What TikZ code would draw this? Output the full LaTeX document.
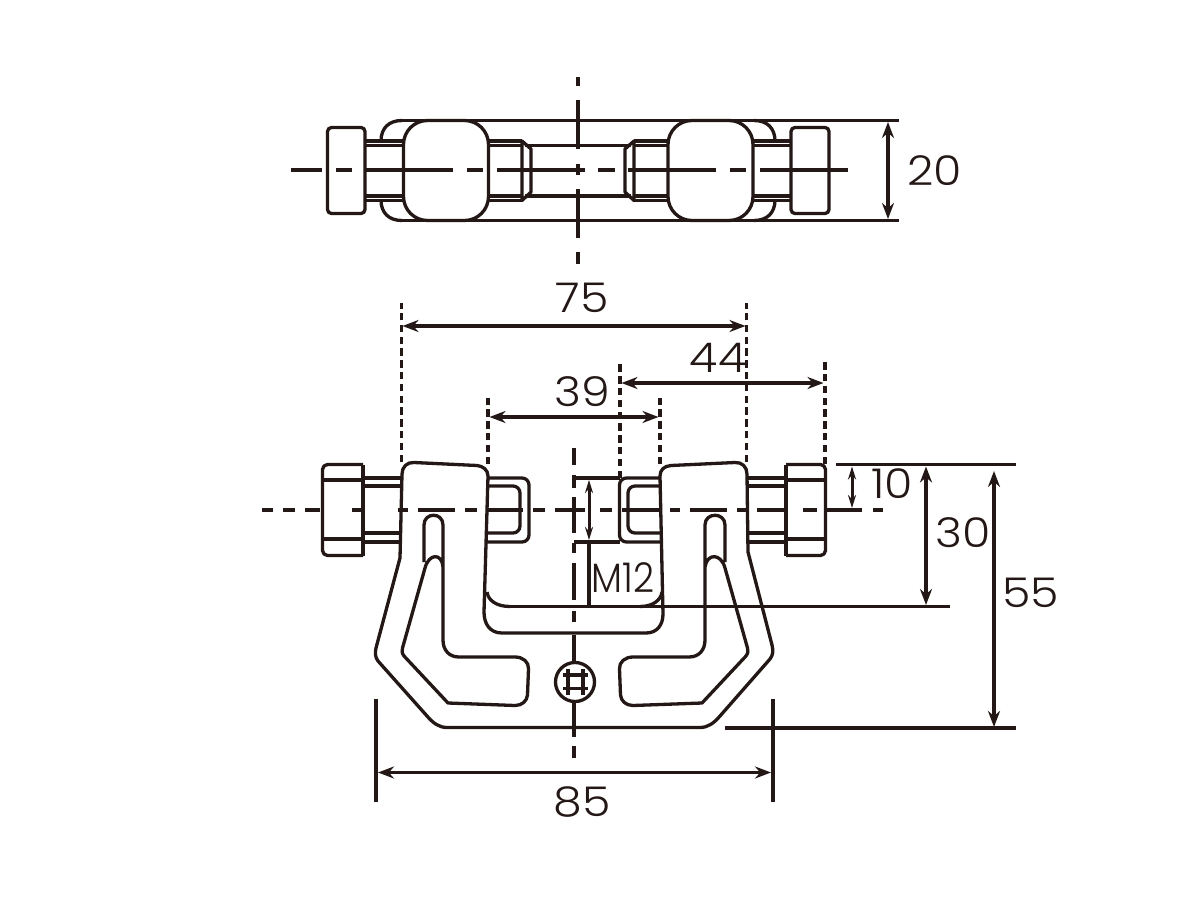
\documentclass[tikz,border=0pt]{standalone}
\usepackage{fontspec}
\setmainfont{Poppins}[UprightFont=* Light]
\usetikzlibrary{arrows.meta}
\definecolor{inkblack}{HTML}{231815}
\tikzset{
  part/.style={color=inkblack,line width=3.3pt,line join=round},
  thinline/.style={color=inkblack,line width=3.1pt},
  axis/.style={color=inkblack,line width=3.3pt},
  witness/.style={color=inkblack,line width=3.6pt,dash pattern=on 7.5pt off 4.3pt},
  dimline/.style={color=inkblack,line width=3.2pt,{Stealth[length=16pt,width=12pt]}-{Stealth[length=16pt,width=12pt]}},
  smalldim/.style={color=inkblack,line width=3pt,{Stealth[length=13pt,width=8pt]}-{Stealth[length=13pt,width=8pt]}},
  dimtext/.style={color=inkblack,font=\fontsize{41}{41}\selectfont,inner sep=0pt,xscale=1.12,transform shape},
}
\begin{document}
\begin{tikzpicture}[x=1pt,y=-1pt]
\useasboundingbox (0,0) rectangle (1200,900);
\fill[white] (0,0) rectangle (1200,900);
% Top view: clamp body behind the blocks
\draw[part] (381,141) .. controls (381,128) and (389,120.5) .. (402,120.5);
\draw[part] (381,200) .. controls (381,213) and (389,220.5) .. (402,220.5);
\draw[part] (775,141) .. controls (775,128) and (767,120.5) .. (754,120.5);
\draw[part] (775,200) .. controls (775,213) and (767,220.5) .. (754,220.5);
\draw[thinline] (398,120.5) -- (899,120.5);
\draw[thinline] (398,220.5) -- (899,220.5);
% Top view: bolt
\foreach \sx/\ex in {366/403,489/522,634/667,753/791} {
  \draw[part] (\sx,141) -- (\ex,141);
  \draw[thinline] (\sx,145.5) -- (\ex,145.5);
  \draw[thinline] (\sx,196) -- (\ex,196);
  \draw[part] (\sx,200.5) -- (\ex,200.5);
}
\draw[thinline] (525,145.5) -- (631,145.5);
\draw[thinline] (525,196) -- (631,196);
\draw[part] (522,141) -- (531,149) -- (531,192) -- (522,200.5) -- cycle;
\draw[part] (634,141) -- (625,149) -- (625,192) -- (634,200.5) -- cycle;
% Top view: heads and blocks
\draw[part,fill=white,rounded corners=4pt] (327.5,127.5) rectangle (365,213.5);
\draw[part,fill=white,rounded corners=4pt] (791,127.5) rectangle (829,213.5);
\draw[part,fill=white,rounded corners=24pt] (403.5,120.5) rectangle (488.5,220.5);
\draw[part,fill=white,rounded corners=24pt] (668,120.5) rectangle (753,220.5);
% Top view: centre lines
\foreach \sx/\ex in {291/322,336/352,365/453,467/483,497/585,598/615,628/716,730/746,760/848} {
  \draw[axis] (\sx,170) -- (\ex,170);
}
\foreach \sy/\ey in {77/86,100/149,164/175,189/238,252/264} {
  \draw[axis] (578,\sy) -- (578,\ey);
}
\draw[dimline] (888,122) -- (888,219);
\node[dimtext] (size20) at (935,171) {20};
% Front view: witness lines
\draw[witness] (401.5,462) -- (401.5,303);
\draw[witness] (488,464) -- (488,397);
\draw[witness] (620,478) -- (620,362);
\draw[witness] (660,464) -- (660,396);
\draw[witness] (746.5,462) -- (746.5,303);
\draw[witness] (825,464) -- (825,362);
\draw[dimline] (402.5,326) -- (745.5,326);
\draw[dimline] (621.5,383) -- (823.5,383);
\draw[dimline] (489.5,417) -- (658.5,417);
\node[dimtext] (size75) at (582,298) {75};
\node[dimtext] (size44) at (718,358) {44};
\node[dimtext] (size39) at (582,392) {39};
% Front view: rod
\foreach \sx/\ex in {363/402,748/786} {
  \draw[part] (\sx,478) -- (\ex,478);
  \draw[part] (\sx,486) -- (\ex,486);
  \draw[part] (\sx,533) -- (\ex,533);
  \draw[part] (\sx,542) -- (\ex,542);
}
\draw[part,rounded corners=7pt] (488,478) -- (529,478) -- (529,542) -- (486,542);
\draw[part,rounded corners=7pt] (488,486) -- (520,486) -- (520,533) -- (486,533);
\draw[part,rounded corners=7pt] (660,478) -- (619.5,478) -- (619.5,542) -- (662,542);
\draw[part,rounded corners=7pt] (660,486) -- (628,486) -- (628,533) -- (662,533);
% Front view: nuts
\draw[part,fill=white,rounded corners=5pt] (363,464.5) -- (322.5,464.5) -- (322.5,555.5) -- (363,555.5);
\draw[part] (363,464.5) -- (363,555.5);
\draw[part] (322.5,480) -- (363,480);
\draw[part] (322.5,539) -- (363,539);
\draw[part,fill=white,rounded corners=5pt] (786,464.5) -- (825.5,464.5) -- (825.5,555.5) -- (786,555.5);
\draw[part] (786,464.5) -- (786,555.5);
\draw[part] (786,480) -- (825.5,480);
\draw[part] (786,539) -- (825.5,539);
% Front view: clamp outline
\draw[part,fill=white] (402,474) .. controls (402,467) and (407,462) .. (414,462.5)
  -- (477,465.5) .. controls (483,466) and (488,470) .. (488,476)
  -- (484,612) .. controls (484,624) and (490,633) .. (502,633)
  -- (646,633) .. controls (657,633) and (663,625) .. (663,614)
  -- (660,476) .. controls (660,470) and (664,466) .. (671,465.5)
  -- (735,462.5) .. controls (742,462) and (747,467) .. (747,474)
  -- (748,552) -- (772,645) .. controls (773.5,651) and (773,655) .. (770,659)
  -- (720,716) .. controls (714,723) and (708,727.5) .. (700,727.5)
  -- (447,727.5) .. controls (439,727.5) and (433,723) .. (427,716)
  -- (378,661) .. controls (375,657) and (375,653) .. (376,648)
  -- (400,558) -- cycle;
\draw[part] (487,592) .. controls (488,600) and (496,606.5) .. (510,606.5);
\draw[part] (662,592) .. controls (661,600) and (653,606.5) .. (640,606.5);
% Front view: slots
\draw[part,fill=white] (424,562) -- (424,525) .. controls (424,512) and (443,512) .. (443,525)
  -- (443,640) .. controls (443,650) and (449,657) .. (459,657)
  -- (515,657) .. controls (523,657) and (529,662) .. (528.5,669)
  -- (527.5,695) .. controls (527,701) and (522,705.5) .. (515,705.5)
  -- (448,703) -- (404,656) .. controls (402,653) and (401.5,651) .. (402.5,648)
  -- (425,568) .. controls (429,553) and (442,553) .. (443,567);
\draw[part,fill=white] (725,562) -- (725,525) .. controls (725,512) and (705,512) .. (705,525)
  -- (705,640) .. controls (705,650) and (699,657) .. (689,657)
  -- (633,657) .. controls (625,657) and (619,662) .. (619.5,669)
  -- (620.5,695) .. controls (621,701) and (626,705.5) .. (633,705.5)
  -- (702,703) -- (746,656) .. controls (748,653) and (748.5,651) .. (747.5,648)
  -- (725,568) .. controls (721,553) and (707,553) .. (705,567);
% Front view: hole
\draw[part,fill=white] (575,682) circle (19.5);
\draw[part] (568,669) -- (568,695);
\draw[part] (583,669) -- (583,695);
\draw[part] (563,675) -- (588,675);
\draw[part] (563,688.5) -- (588,688.5);
% Front view: centre lines
\foreach \sx/\ex in {262/273,283/295,305/320,352/362,398/408,418/455,465/477,488/523,533/545,555/585,600/612,622/660,670/680,690/727,737/747,757/786,803/817,827/862,873/883} {
  \draw[axis] (\sx,510) -- (\ex,510);
}
\foreach \sy/\ey in {448/465,475/488,497/533,543/553,563/600,611/622,635/662,703/737,746/758} {
  \draw[axis] (574,\sy) -- (574,\ey);
}
% Front view: dimensions
\draw[thinline] (574,478) -- (620,478);
\draw[thinline] (574,542) -- (620,542);
\draw[smalldim] (589,480) -- (589,540);
\draw[thinline] (589,542) -- (589,606);
\draw[thinline] (510,606.5) -- (950,606.5);
\node[dimtext,xscale=.8] (sizeM12) at (623,578) {M12};
\draw[part] (836,464.5) -- (1016,464.5);
\draw[part] (725,728) -- (1016,728);
\draw[smalldim] (852,466.5) -- (852,508);
\draw[dimline] (926,466.5) -- (926,605);
\draw[dimline] (994,471) -- (994,727);
\node[dimtext] (size10) at (892,484) {10};
\node[dimtext] (size30) at (963,533) {30};
\node[dimtext] (size55) at (1030.5,593) {55};
\draw[part] (376,699) -- (376,802);
\draw[part] (773,699) -- (773,802);
\draw[dimline] (378,772.5) -- (771,772.5);
\node[dimtext] (size85) at (582,802) {85};
\end{tikzpicture}
\end{document}
